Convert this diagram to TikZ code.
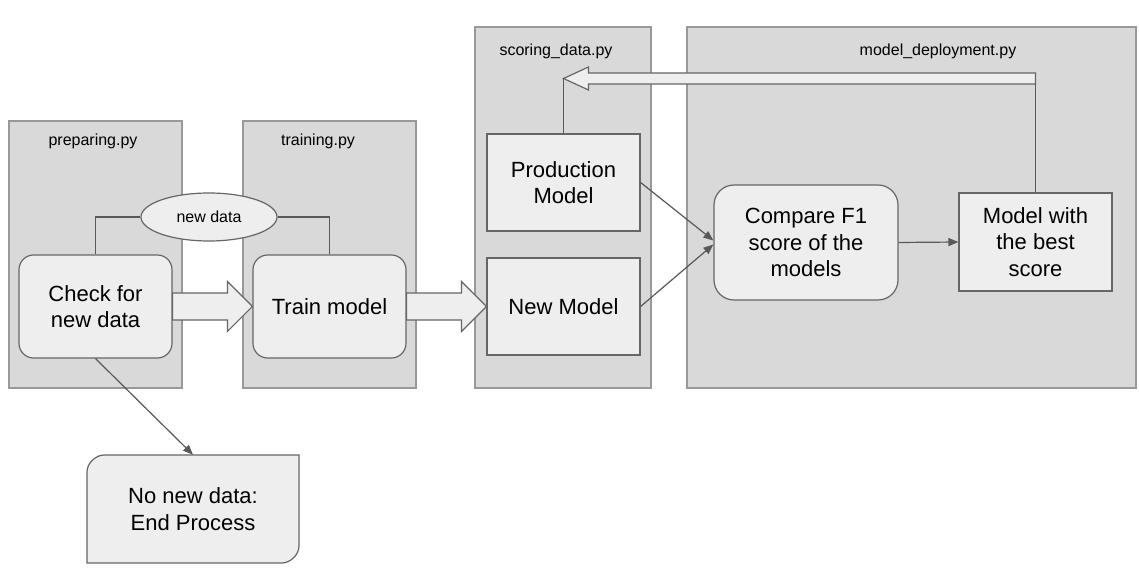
\documentclass[tikz,border=0pt]{standalone}
\usepackage{fontspec}
\setmainfont{Liberation Sans}
\usetikzlibrary{arrows.meta,calc,shapes.geometric}

\definecolor{panelfill}{HTML}{D9D9D9}
\definecolor{panelline}{HTML}{999999}
\definecolor{boxfill}{HTML}{EEEEEE}
\definecolor{boxline}{HTML}{666666}
\definecolor{linkline}{HTML}{595959}

\tikzset{
  panel/.style = {fill=panelfill, draw=panelline, line width=0.9pt},
  paneltitle/.style = {font=\fontsize{12}{14}\selectfont},
  stepbox/.style = {fill=boxfill, draw=boxline, line width=0.9pt, align=center,
    inner sep=0pt, minimum width=114.75pt, font=\fontsize{16.5}{20}\selectfont},
  roundbox/.style = {stepbox, rounded corners=11pt},
  blockarrow/.style = {fill=boxfill, draw=boxline, line width=0.9pt},
  link/.style = {draw=linkline, line width=0.9pt},
}

\begin{document}
\begin{tikzpicture}[x=0.75pt, y=-0.75pt, >={Triangle[length=7.5pt,width=6pt]}]
\useasboundingbox (0,0) rectangle (1139,580);

% panels
\draw[panel] (9,121) rectangle (182,388);
\draw[panel] (243,121) rectangle (416,388);
\draw[panel] (475,27) rectangle (651,388);
\draw[panel] (687,27) rectangle (1136,388);
\node[paneltitle] (preplabel) at (93,141) {preparing.py};
\node[paneltitle] (trainlabel) at (318,141) {training.py};
\node[paneltitle] (scorelabel) at (556,51) {scoring\_data.py};
\node[paneltitle] (deploylabel) at (938,51) {model\_deployment.py};

% steps
\node[roundbox, minimum height=77.25pt] (check) at (95.5,306.5) {Check for\\new data};
\node[roundbox, minimum height=77.25pt] (train) at (329.5,306.5) {Train model};
\node[stepbox, minimum height=72.75pt] (prod) at (563.5,182.5) {Production\\Model};
\node[stepbox, minimum height=72.75pt] (new) at (563.5,306.5) {New Model};
\node[roundbox, minimum width=138pt, minimum height=86.25pt, rounded corners=15pt] (compare) at (806,242.5) {Compare F1\\score of the\\models};
\node[stepbox, minimum height=73.5pt] (best) at (1035.5,242) {Model with\\the best\\score};
\node[ellipse, fill=boxfill, draw=boxline, line width=0.9pt, inner sep=0pt,
  minimum width=102pt, minimum height=36pt, font=\fontsize{12}{14}\selectfont] (newdata) at (209,217) {new data};

% end box, two corners rounded
\draw[stepbox] (87,563) -- (87,472) .. controls (87,462.6) and (96.4,455) .. (104,455)
  -- (299,455) -- (299,546) .. controls (299,555.4) and (289.6,563) .. (282,563) -- cycle;
\node[align=center, minimum width=159pt, minimum height=81pt, inner sep=0pt,
  font=\fontsize{16.5}{20}\selectfont] (nonew) at (193,509) {No new data:\\End Process};

% new data links
\draw[link] (check.north) |- (newdata.west);
\draw[link] (newdata.east) -| (train.north);

% block arrows
\draw[blockarrow] ($(check.east)+(0,-13.5)$) -- ($(train.west)+(-25,-13.5)$)
  -- ($(train.west)+(-25,-25)$) -- (train.west) -- ($(train.west)+(-25,25)$)
  -- ($(train.west)+(-25,13.5)$) -- ($(check.east)+(0,13.5)$) -- cycle;
\draw[blockarrow] ($(train.east)+(0,-13.5)$) -- ($(new.west)+(-25,-13.5)$)
  -- ($(new.west)+(-25,-25)$) -- (new.west) -- ($(new.west)+(-25,25)$)
  -- ($(new.west)+(-25,13.5)$) -- ($(train.east)+(0,13.5)$) -- cycle;

% return arrow
\coordinate (rettip) at (prod.north |- 0,78.5);
\coordinate (retend) at (best.north |- 0,78.5);
\draw[blockarrow] (rettip) -- ($(rettip)+(25,-11.5)$) -- ($(rettip)+(25,-5.5)$)
  -- ($(retend)+(0,-5.5)$) -- ($(retend)+(0,5.5)$) -- ($(rettip)+(25,5.5)$)
  -- ($(rettip)+(25,11.5)$) -- cycle;
\draw[link] (best.north) -- ($(retend)+(0,5.5)$);
\draw[link] (prod.north) -- (rettip);

% arrows
\draw[link, ->, fill=linkline] (check.south) -- (nonew.north);
\draw[link, ->, fill=linkline] (prod.east) -- ($(compare.west)+(0,-2)$);
\draw[link, ->, fill=linkline] (new.east) -- ($(compare.west)+(0,2)$);
\draw[link, ->, fill=linkline] (compare.east) -- (best.west);
\end{tikzpicture}
\end{document}
